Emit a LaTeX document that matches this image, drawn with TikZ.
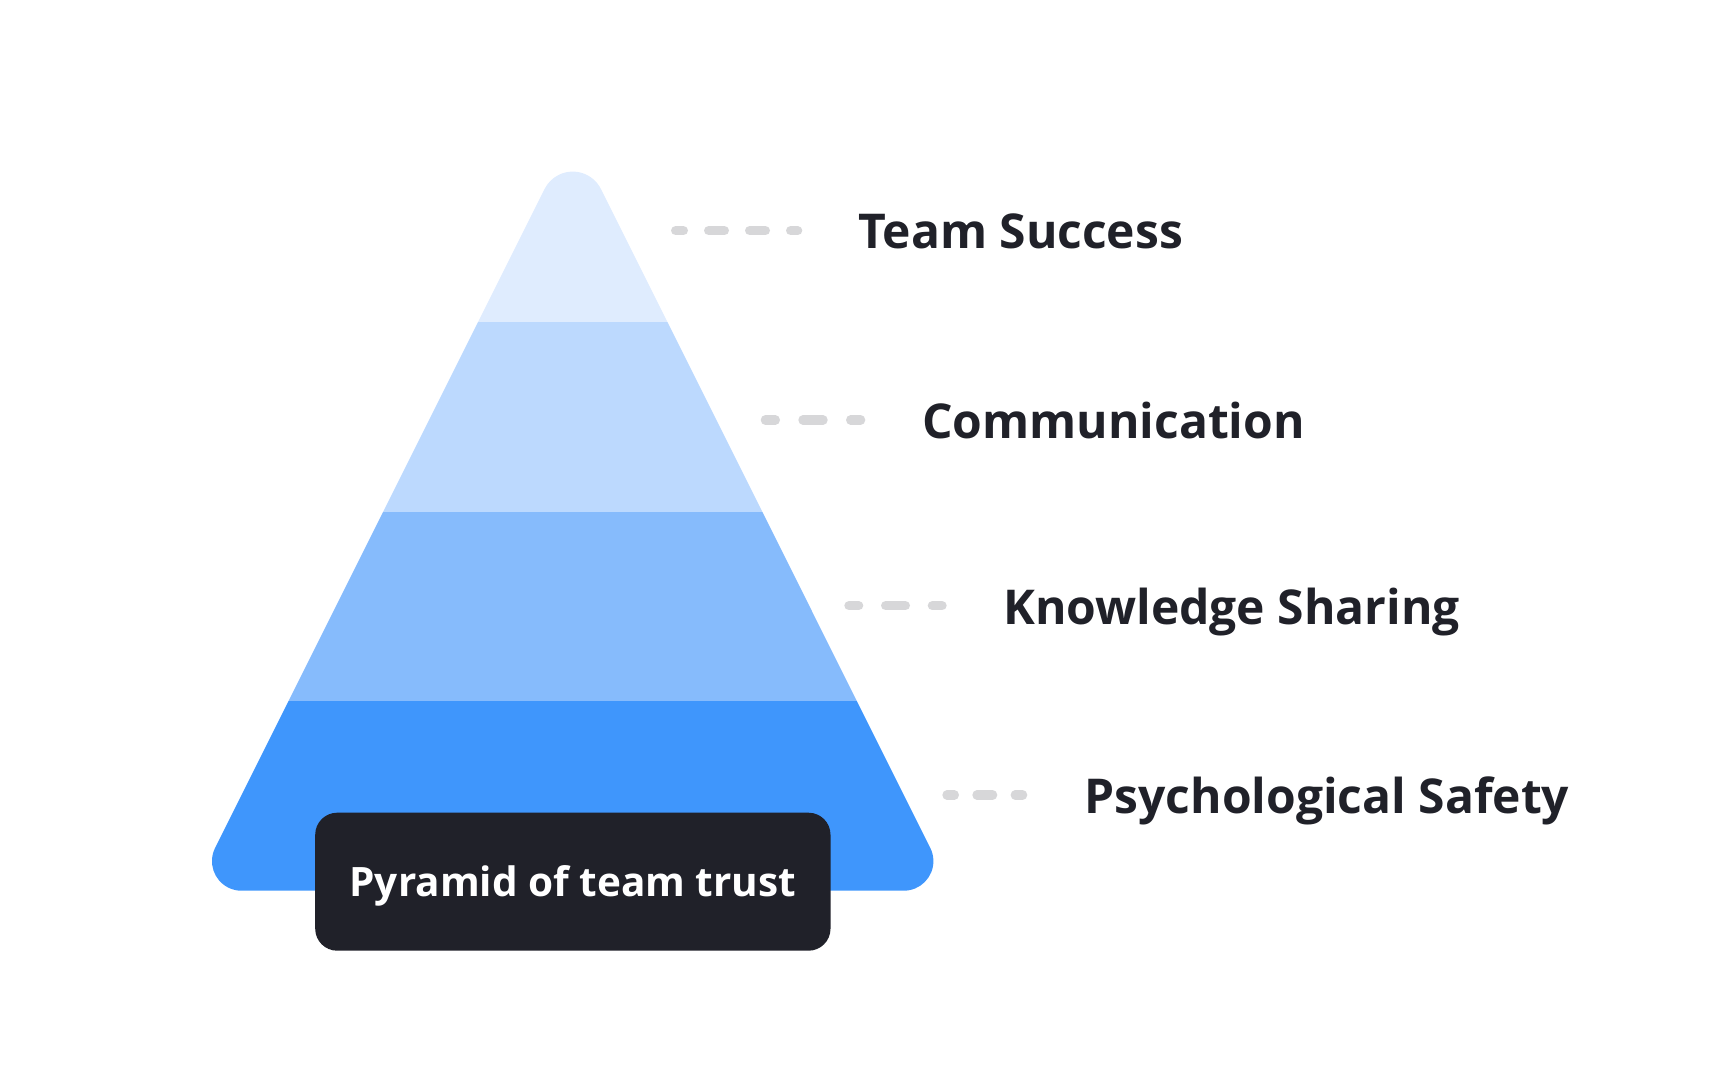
\documentclass[tikz,border=0pt]{standalone}
\usepackage{fontspec}
\setmainfont{Open Sans}
\definecolor{bandA}{HTML}{DFECFE}
\definecolor{bandB}{HTML}{BCD9FE}
\definecolor{bandC}{HTML}{86BBFC}
\definecolor{bandD}{HTML}{3F96FC}
\definecolor{ink}{HTML}{202129}
\definecolor{leadgray}{HTML}{D7D7D9}
\tikzset{
  leader/.style={draw=leadgray, line width=9.3pt, line cap=round},
  levellabel/.style={anchor=base west, inner sep=0pt, text=ink, font=\bfseries\fontsize{48}{56}\selectfont},
  titlebox/.style={fill=ink, rounded corners=22pt, inner sep=0pt, minimum width=515.3pt, minimum height=138pt,
    text=white, text height=29.5pt, text depth=0pt, font=\bfseries\fontsize{40.5}{48}\selectfont}
}
\begin{document}
\begin{tikzpicture}[x=1pt,y=1pt]
\useasboundingbox (0,0) rectangle (1728,1080);
% pyramid
\begin{scope}
\clip (241.6,189.3) -- (903.8,189.3) arc[start angle=-90, end angle=26.57, radius=29.6pt]
  -- (600.9,891.0) arc[start angle=26.57, end angle=153.43, radius=31.5pt]
  -- (215.1,232.1) arc[start angle=153.43, end angle=270, radius=29.6pt] -- cycle;
\fill[bandD] (150,150) rectangle (1000,378.8);
\fill[bandC] (150,378.8) rectangle (1000,568.3);
\fill[bandB] (150,568.3) rectangle (1000,757.8);
\fill[bandA] (150,757.8) rectangle (1000,1000);
\end{scope}
% title box
\node[titlebox] (title) at (572.85,198.3) {Pyramid of team trust};
% labels
\node[levellabel] (ts) at (858,831) {Team Success};
\node[levellabel] (cm) at (922,641.7) {Communication};
\node[levellabel] (ks) at (1003,456) {Knowledge Sharing};
\node[levellabel] (ps) at (1084.4,266.7) {Psychological Safety};
% leaders
\coordinate (ts-a) at (675.65,849.3);
\coordinate (ts-b) at (797.65,849.3);
\coordinate (cm-a) at (765.35,660);
\coordinate (cm-b) at (860.65,660);
\coordinate (ks-a) at (848.95,474.3);
\coordinate (ks-b) at (942.05,474.3);
\coordinate (ps-a) at (946.95,285);
\coordinate (ps-b) at (1022.65,285);
\draw[leader, dash pattern=on 15.7pt off 25.3pt, dash phase=8pt] (ts-a) -- (ts-b);
\draw[leader, dash pattern=on 20.1pt off 27.6pt, dash phase=10.1pt] (cm-a) -- (cm-b);
\draw[leader, dash pattern=on 19.7pt off 27pt, dash phase=10pt] (ks-a) -- (ks-b);
\draw[leader, dash pattern=on 15.7pt off 22.6pt, dash phase=8.3pt] (ps-a) -- (ps-b);
\end{tikzpicture}
\end{document}
